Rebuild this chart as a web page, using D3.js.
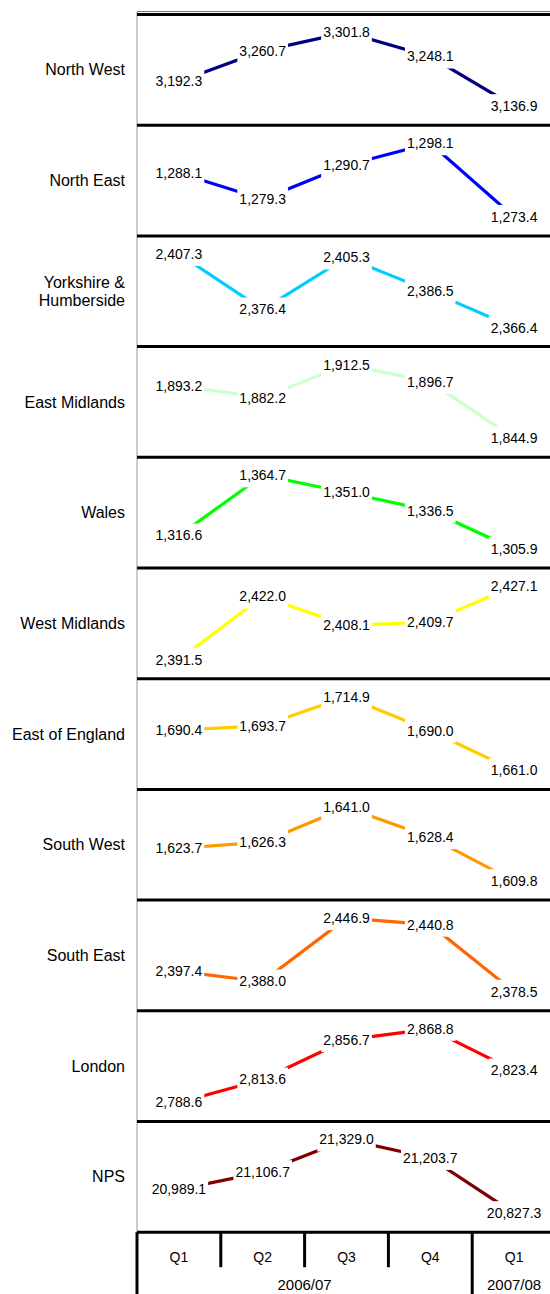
<!DOCTYPE html>
<html>
<head>
<meta charset="utf-8">
<script src="https://cdn.jsdelivr.net/npm/d3@7"></script>
<style>
  body { margin: 0; background: #fff; }
  svg { display: block; font-family: "Liberation Sans", Arial, sans-serif; }
</style>
</head>
<body>
<svg id="chart" width="550" height="1294"></svg>
<script>
// Regions, top to bottom ("\n" marks a line break in the row label)
const regions = [
  "North West", "North East", "Yorkshire &\nHumberside", "East Midlands", "Wales",
  "West Midlands", "East of England", "South West", "South East", "London", "NPS"
];

// Quarterly values per region
const northWest     = [3192.3, 3260.7, 3301.8, 3248.1, 3136.9];
const northEast     = [1288.1, 1279.3, 1290.7, 1298.1, 1273.4];
const yorkshire     = [2407.3, 2376.4, 2405.3, 2386.5, 2366.4];
const eastMidlands  = [1893.2, 1882.2, 1912.5, 1896.7, 1844.9];
const wales         = [1316.6, 1364.7, 1351.0, 1336.5, 1305.9];
const westMidlands  = [2391.5, 2422.0, 2408.1, 2409.7, 2427.1];
const eastOfEngland = [1690.4, 1693.7, 1714.9, 1690.0, 1661.0];
const southWest     = [1623.7, 1626.3, 1641.0, 1628.4, 1609.8];
const southEast     = [2397.4, 2388.0, 2446.9, 2440.8, 2378.5];
const london        = [2788.6, 2813.6, 2856.7, 2868.8, 2823.4];
const nps           = [20989.1, 21106.7, 21329.0, 21203.7, 20827.3];

const series = [northWest, northEast, yorkshire, eastMidlands, wales,
                westMidlands, eastOfEngland, southWest, southEast, london, nps];

const colors = ["#000080", "#0000FF", "#00CCFF", "#CCFFCC", "#00FF00",
                "#FFFF00", "#FFCC00", "#FF9900", "#FF6600", "#FF0000", "#800000"];

// Axis categories
const quarters = ["Q1", "Q2", "Q3", "Q4", "Q1"];
const years = ["2006/07", "2007/08"];
const yearSpans = [4, 1];

// Layout
const plotLeft = 137, plotRight = 556;
const plotTop = 14.5, panelH = 110.7;
const padTop = 18, padBottom = 19;
const labelRight = 125;
const fmt = d3.format(",.1f");

const svg = d3.select("#chart");

const x = d3.scaleBand().domain(d3.range(quarters.length)).range([plotLeft, plotRight]);
const cx = j => x(j) + x.bandwidth() / 2;
const panel = d3.scaleBand().domain(d3.range(regions.length))
  .range([plotTop, plotTop + panelH * regions.length]);
const axisY = plotTop + panelH * regions.length;

// Left frame line
svg.append("line")
  .attr("x1", plotLeft).attr("x2", plotLeft)
  .attr("y1", 12).attr("y2", axisY)
  .attr("stroke", "#999").attr("stroke-width", 1);

// Panels
regions.forEach((name, i) => {
  const top = panel(i), bottom = top + panel.bandwidth();
  const vals = series[i];
  const y = d3.scaleLinear().domain(d3.extent(vals)).range([bottom - padBottom, top + padTop]);
  const g = svg.append("g");

  g.append("path")
    .datum(vals)
    .attr("fill", "none")
    .attr("stroke", colors[i])
    .attr("stroke-width", 3.2)
    .attr("d", d3.line().x((d, j) => cx(j)).y(d => y(d)));

  const lab = g.selectAll("g.lbl").data(vals).join("g").attr("class", "lbl")
    .attr("transform", (d, j) => `translate(${cx(j)},${y(d)})`);
  const bg = lab.append("rect").attr("fill", "#fff");
  const tx = lab.append("text")
    .attr("text-anchor", "middle").attr("dy", "0.35em")
    .attr("font-size", 14).attr("fill", "#000")
    .text(d => fmt(d));
  tx.each(function () {
    const w = this.getComputedTextLength();
    d3.select(this.parentNode).select("rect")
      .attr("x", -w / 2 - 2).attr("width", w + 4)
      .attr("y", -12).attr("height", 24);
  });

  // Row label
  const lines = name.split("\n");
  const t = svg.append("text")
    .attr("text-anchor", "end").attr("font-size", 16).attr("fill", "#000")
    .attr("x", labelRight)
    .attr("y", (top + bottom) / 2);
  lines.forEach((ln, k) => {
    t.append("tspan").attr("x", labelRight)
      .attr("dy", k === 0 ? `${0.35 - (lines.length - 1) * 0.55}em` : "1.1em")
      .text(ln);
  });
});

// Panel separators
const seps = d3.range(regions.length + 1).map(i => plotTop + panelH * i);
svg.selectAll("line.sep").data(seps).join("line")
  .attr("x1", plotLeft).attr("x2", plotRight)
  .attr("y1", d => d).attr("y2", d => d)
  .attr("stroke", "#000").attr("stroke-width", 3);
svg.append("line")
  .attr("x1", plotLeft).attr("x2", plotRight)
  .attr("y1", 11.5).attr("y2", 11.5)
  .attr("stroke", "#777").attr("stroke-width", 1);

// Category axis
const tickEnd = axisY + 35;
const yearEdges = d3.cumsum(yearSpans);
svg.append("line")
  .attr("x1", plotLeft).attr("x2", plotLeft)
  .attr("y1", axisY).attr("y2", 1294)
  .attr("stroke", "#000").attr("stroke-width", 3);
d3.range(1, quarters.length).forEach(j => {
  const long = yearEdges.includes(j);
  svg.append("line")
    .attr("x1", x(j)).attr("x2", x(j))
    .attr("y1", axisY).attr("y2", long ? 1294 : tickEnd)
    .attr("stroke", "#000").attr("stroke-width", 3);
});
svg.selectAll("text.q").data(quarters).join("text")
  .attr("class", "q")
  .attr("x", (d, j) => cx(j)).attr("y", axisY + 25)
  .attr("dy", "0.35em").attr("text-anchor", "middle")
  .attr("font-size", 14).text(d => d);
let start = 0;
years.forEach((yr, k) => {
  const end = start + yearSpans[k];
  const mid = (x(start) + x(end - 1) + x.bandwidth()) / 2;
  svg.append("text")
    .attr("x", mid).attr("y", axisY + 53)
    .attr("dy", "0.35em").attr("text-anchor", "middle")
    .attr("font-size", 15).text(yr);
  start = end;
});
</script>
</body>
</html>
